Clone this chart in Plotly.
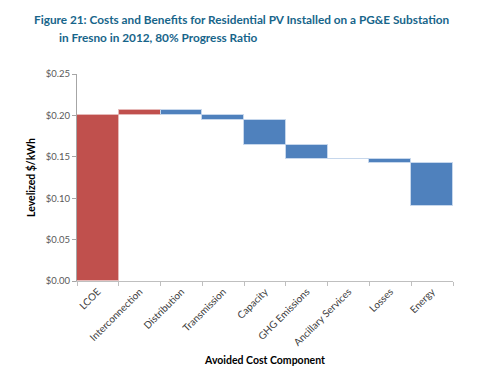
import plotly.graph_objects as go

categories = ["LCOE", "Interconnection", "Distribution", "Transmission", "Capacity",
              "GHG Emissions", "Ancillary Services", "Losses", "Energy"]
values = [0.200, 0.0065, -0.006, -0.006, -0.030, -0.017, -0.0005, -0.004, -0.052]
measures = ["absolute"] + ["relative"] * 8
y_ticks = [0.0, 0.05, 0.10, 0.15, 0.20, 0.25]
y_tick_labels = ["$0.00", "$0.05", "$0.10", "$0.15", "$0.20", "$0.25"]

RED = "#C0504D"
BLUE = "#4F81BD"
EDGE = "#C6D7EC"

OFF = 8  # page body margin
W, H = 484 - OFF, 390 - OFF
L, R, T, B = 77 - OFF, 31, 74 - OFF, 109
pw, ph = W - L - R, H - T - B

def px(x):
    return (x - OFF - L) / pw

def py(y):
    return (H - B - (y - OFF)) / ph

fig = go.Figure(go.Waterfall(
    x=categories,
    y=values,
    measure=measures,
    increasing=dict(marker=dict(color=RED, line=dict(color="#E6B9B8", width=1))),
    decreasing=dict(marker=dict(color=BLUE, line=dict(color=EDGE, width=1))),
    totals=dict(marker=dict(color=RED, line=dict(color="#E6B9B8", width=1))),
    connector=dict(visible=False),
    hoverinfo="skip",
))

title_font = dict(family="Lato, Open Sans, sans-serif", size=11.8, color="#17658A")
fig.add_annotation(text="<b>Figure 21: Costs and Benefits for Residential PV Installed on a PG&E Substation</b>",
                   xref="paper", yref="paper", x=px(33), y=py(20), xanchor="left", yanchor="middle",
                   showarrow=False, font=title_font, borderpad=0)
fig.add_annotation(text="<b>in Fresno in 2012, 80% Progress Ratio</b>",
                   xref="paper", yref="paper", x=px(58), y=py(37), xanchor="left", yanchor="middle",
                   showarrow=False, font=title_font, borderpad=0)

fig.update_layout(
    width=W, height=H,
    margin=dict(l=L, r=R, t=T, b=B),
    paper_bgcolor="white", plot_bgcolor="white",
    showlegend=False,
    waterfallgap=0,
    font=dict(family="Lato, Open Sans, sans-serif", size=10, color="#595959"),
    xaxis=dict(
        showline=True, linecolor="#BFBFBF", linewidth=1,
        ticks="outside", ticklen=4, tickcolor="#BFBFBF", tickson="boundaries",
        tickangle=-45, tickfont=dict(size=10, color="#404040"),
        title=dict(text="<b>Avoided Cost Component</b>", font=dict(size=10.5, color="#000000"), standoff=9),
        showgrid=False, fixedrange=True,
    ),
    yaxis=dict(
        range=[0, 0.25],
        tickvals=y_ticks, ticktext=y_tick_labels,
        showline=True, linecolor="#A6A6A6", linewidth=1,
        ticks="outside", ticklen=4, tickcolor="#A6A6A6",
        tickfont=dict(size=9.5, color="#595959"),
        title=dict(text="<b>Levelized $/kWh</b>", font=dict(size=10.5, color="#000000"), standoff=8),
        showgrid=False, zeroline=False, fixedrange=True,
    ),
)

fig.write_html("out.html")
